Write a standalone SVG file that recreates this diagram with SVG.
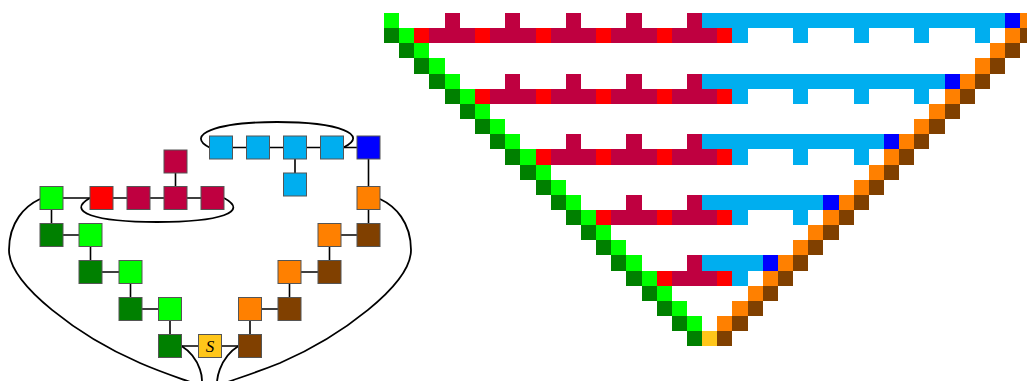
<svg xmlns="http://www.w3.org/2000/svg" width="1027" height="381" viewBox="0 0 1027 381">
<style>
.lg{fill:#00ff00}.dg{fill:#008000}.r{fill:#ff0000}.c{fill:#bf0040}.y{fill:#00aeef}.b{fill:#0000ff}.o{fill:#ff8000}.br{fill:#804000}.s{fill:#ffc61a}
.node rect{stroke:#555;stroke-width:1}
.edge{fill:none;stroke:#000;stroke-width:1.6}
.loop{fill:none;stroke:#000;stroke-width:1.8}
.lbl{font-family:"Liberation Serif",serif;font-style:italic;font-size:17px;fill:#000;text-anchor:middle}
</style>
<rect width="1027" height="381" fill="#fff"/>
<g id="connectors">
<path class="edge" d="M51.5 198H212.5M175.5 161.5V198M51.5 198V235H90.5V272H130.5V309H170V346H250V309H289.5V272H329.5V235H368.5V147.5H221M295 147.5V184.5"/>
<path class="loop" d="M90 198C65 212 95 222 157 222C220 222 250 212 224 198"/>
<path class="loop" d="M209.5 147.5C185 135 215 122 277 122C340 122 370 135 343.5 147.5"/>
<path class="loop" d="M40 199C25 206 9 222 9 250C9 285 80 337 140 363C170 376 190 381 200 386C205 383 201 358 181.5 346"/>
<path class="loop" d="M380 199C395 206 411 222 411 250C411 285 340 337 280 363C245 377 228 381 218 386C215 383 219 358 238.5 346"/>
</g>
<g id="n_lg1" class="node"><rect class="lg" x="40" y="186.5" width="23" height="23"/></g>
<g id="n_red" class="node"><rect class="r" x="90" y="186.5" width="23" height="23"/></g>
<g id="n_c1" class="node"><rect class="c" x="127" y="186.5" width="23" height="23"/></g>
<g id="n_c2" class="node"><rect class="c" x="164" y="186.5" width="23" height="23"/></g>
<g id="n_c3" class="node"><rect class="c" x="201" y="186.5" width="23" height="23"/></g>
<g id="n_ctop" class="node"><rect class="c" x="164" y="150" width="23" height="23"/></g>
<g id="n_dg1" class="node"><rect class="dg" x="40" y="223.5" width="23" height="23"/></g>
<g id="n_lg2" class="node"><rect class="lg" x="79" y="223.5" width="23" height="23"/></g>
<g id="n_dg2" class="node"><rect class="dg" x="79" y="260.5" width="23" height="23"/></g>
<g id="n_lg3" class="node"><rect class="lg" x="119" y="260.5" width="23" height="23"/></g>
<g id="n_dg3" class="node"><rect class="dg" x="119" y="297.5" width="23" height="23"/></g>
<g id="n_lg4" class="node"><rect class="lg" x="158.5" y="297.5" width="23" height="23"/></g>
<g id="n_dg4" class="node"><rect class="dg" x="158.5" y="334.5" width="23" height="23"/></g>
<g id="n_s" class="node"><rect class="s" x="198.5" y="334.5" width="23" height="23"/><text class="lbl" x="210" y="351.5">S</text></g>
<g id="n_br1" class="node"><rect class="br" x="238.5" y="334.5" width="23" height="23"/></g>
<g id="n_o1" class="node"><rect class="o" x="238.5" y="297.5" width="23" height="23"/></g>
<g id="n_br2" class="node"><rect class="br" x="278" y="297.5" width="23" height="23"/></g>
<g id="n_o2" class="node"><rect class="o" x="278" y="260.5" width="23" height="23"/></g>
<g id="n_br3" class="node"><rect class="br" x="318" y="260.5" width="23" height="23"/></g>
<g id="n_o3" class="node"><rect class="o" x="318" y="223.5" width="23" height="23"/></g>
<g id="n_br4" class="node"><rect class="br" x="357" y="223.5" width="23" height="23"/></g>
<g id="n_o4" class="node"><rect class="o" x="357" y="186.5" width="23" height="23"/></g>
<g id="n_blue" class="node"><rect class="b" x="357" y="136" width="23" height="23"/></g>
<g id="n_y4" class="node"><rect class="y" x="320.5" y="136" width="23" height="23"/></g>
<g id="n_y3" class="node"><rect class="y" x="283.5" y="136" width="23" height="23"/></g>
<g id="n_y2" class="node"><rect class="y" x="246.5" y="136" width="23" height="23"/></g>
<g id="n_y1" class="node"><rect class="y" x="209.5" y="136" width="23" height="23"/></g>
<g id="n_ybot" class="node"><rect class="y" x="283.5" y="173" width="23" height="23"/></g>
<g id="grid" transform="translate(384 13) scale(15.15)" shape-rendering="crispEdges">
<path class="lg" d="M0 0h1v1h-1zm1 1h1v1h-1zm1 1h1v1h-1zm1 1h1v1h-1zm1 1h1v1h-1zm1 1h1v1h-1zm1 1h1v1h-1zm1 1h1v1h-1zm1 1h1v1h-1zm1 1h1v1h-1zm1 1h1v1h-1zm1 1h1v1h-1zm1 1h1v1h-1zm1 1h1v1h-1zm1 1h1v1h-1zm1 1h1v1h-1zm1 1h1v1h-1zm1 1h1v1h-1zm1 1h1v1h-1zm1 1h1v1h-1zm1 1h1v1h-1z"/>
<path class="dg" d="M0 1h1v1h-1zm1 1h1v1h-1zm1 1h1v1h-1zm1 1h1v1h-1zm1 1h1v1h-1zm1 1h1v1h-1zm1 1h1v1h-1zm1 1h1v1h-1zm1 1h1v1h-1zm1 1h1v1h-1zm1 1h1v1h-1zm1 1h1v1h-1zm1 1h1v1h-1zm1 1h1v1h-1zm1 1h1v1h-1zm1 1h1v1h-1zm1 1h1v1h-1zm1 1h1v1h-1zm1 1h1v1h-1zm1 1h1v1h-1zm1 1h1v1h-1z"/>
<path class="o" d="M42 0h1v1h-1zm-1 1h1v1h-1zm-1 1h1v1h-1zm-1 1h1v1h-1zm-1 1h1v1h-1zm-1 1h1v1h-1zm-1 1h1v1h-1zm-1 1h1v1h-1zm-1 1h1v1h-1zm-1 1h1v1h-1zm-1 1h1v1h-1zm-1 1h1v1h-1zm-1 1h1v1h-1zm-1 1h1v1h-1zm-1 1h1v1h-1zm-1 1h1v1h-1zm-1 1h1v1h-1zm-1 1h1v1h-1zm-1 1h1v1h-1zm-1 1h1v1h-1zm-1 1h1v1h-1z"/>
<path class="br" d="M42 1h1v1h-1zm-1 1h1v1h-1zm-1 1h1v1h-1zm-1 1h1v1h-1zm-1 1h1v1h-1zm-1 1h1v1h-1zm-1 1h1v1h-1zm-1 1h1v1h-1zm-1 1h1v1h-1zm-1 1h1v1h-1zm-1 1h1v1h-1zm-1 1h1v1h-1zm-1 1h1v1h-1zm-1 1h1v1h-1zm-1 1h1v1h-1zm-1 1h1v1h-1zm-1 1h1v1h-1zm-1 1h1v1h-1zm-1 1h1v1h-1zm-1 1h1v1h-1zm-1 1h1v1h-1z"/>
<rect class="s" x="21" y="21" width="1" height="1"/>
<rect class="c" x="4" y="0" width="1" height="1"/><rect class="c" x="8" y="0" width="1" height="1"/><rect class="c" x="12" y="0" width="1" height="1"/><rect class="c" x="16" y="0" width="1" height="1"/><rect class="c" x="20" y="0" width="1" height="1"/>
<rect class="y" x="21" y="0" width="20" height="1"/><rect class="b" x="41" y="0" width="1" height="1"/>
<rect class="c" x="2" y="1" width="21" height="1"/>
<rect class="r" x="2" y="1" width="1" height="1"/><rect class="r" x="6" y="1" width="1" height="1"/><rect class="r" x="10" y="1" width="1" height="1"/><rect class="r" x="14" y="1" width="1" height="1"/><rect class="r" x="18" y="1" width="1" height="1"/><rect class="r" x="22" y="1" width="1" height="1"/>
<rect class="y" x="23" y="1" width="1" height="1"/><rect class="y" x="27" y="1" width="1" height="1"/><rect class="y" x="31" y="1" width="1" height="1"/><rect class="y" x="35" y="1" width="1" height="1"/><rect class="y" x="39" y="1" width="1" height="1"/>
<rect class="c" x="8" y="4" width="1" height="1"/><rect class="c" x="12" y="4" width="1" height="1"/><rect class="c" x="16" y="4" width="1" height="1"/><rect class="c" x="20" y="4" width="1" height="1"/>
<rect class="y" x="21" y="4" width="16" height="1"/><rect class="b" x="37" y="4" width="1" height="1"/>
<rect class="c" x="6" y="5" width="17" height="1"/>
<rect class="r" x="6" y="5" width="1" height="1"/><rect class="r" x="10" y="5" width="1" height="1"/><rect class="r" x="14" y="5" width="1" height="1"/><rect class="r" x="18" y="5" width="1" height="1"/><rect class="r" x="22" y="5" width="1" height="1"/>
<rect class="y" x="23" y="5" width="1" height="1"/><rect class="y" x="27" y="5" width="1" height="1"/><rect class="y" x="31" y="5" width="1" height="1"/><rect class="y" x="35" y="5" width="1" height="1"/>
<rect class="c" x="12" y="8" width="1" height="1"/><rect class="c" x="16" y="8" width="1" height="1"/><rect class="c" x="20" y="8" width="1" height="1"/>
<rect class="y" x="21" y="8" width="12" height="1"/><rect class="b" x="33" y="8" width="1" height="1"/>
<rect class="c" x="10" y="9" width="13" height="1"/>
<rect class="r" x="10" y="9" width="1" height="1"/><rect class="r" x="14" y="9" width="1" height="1"/><rect class="r" x="18" y="9" width="1" height="1"/><rect class="r" x="22" y="9" width="1" height="1"/>
<rect class="y" x="23" y="9" width="1" height="1"/><rect class="y" x="27" y="9" width="1" height="1"/><rect class="y" x="31" y="9" width="1" height="1"/>
<rect class="c" x="16" y="12" width="1" height="1"/><rect class="c" x="20" y="12" width="1" height="1"/>
<rect class="y" x="21" y="12" width="8" height="1"/><rect class="b" x="29" y="12" width="1" height="1"/>
<rect class="c" x="14" y="13" width="9" height="1"/>
<rect class="r" x="14" y="13" width="1" height="1"/><rect class="r" x="18" y="13" width="1" height="1"/><rect class="r" x="22" y="13" width="1" height="1"/>
<rect class="y" x="23" y="13" width="1" height="1"/><rect class="y" x="27" y="13" width="1" height="1"/>
<rect class="c" x="20" y="16" width="1" height="1"/>
<rect class="y" x="21" y="16" width="4" height="1"/><rect class="b" x="25" y="16" width="1" height="1"/>
<rect class="c" x="18" y="17" width="5" height="1"/>
<rect class="r" x="18" y="17" width="1" height="1"/><rect class="r" x="22" y="17" width="1" height="1"/>
<rect class="y" x="23" y="17" width="1" height="1"/>
</g>
</svg>
